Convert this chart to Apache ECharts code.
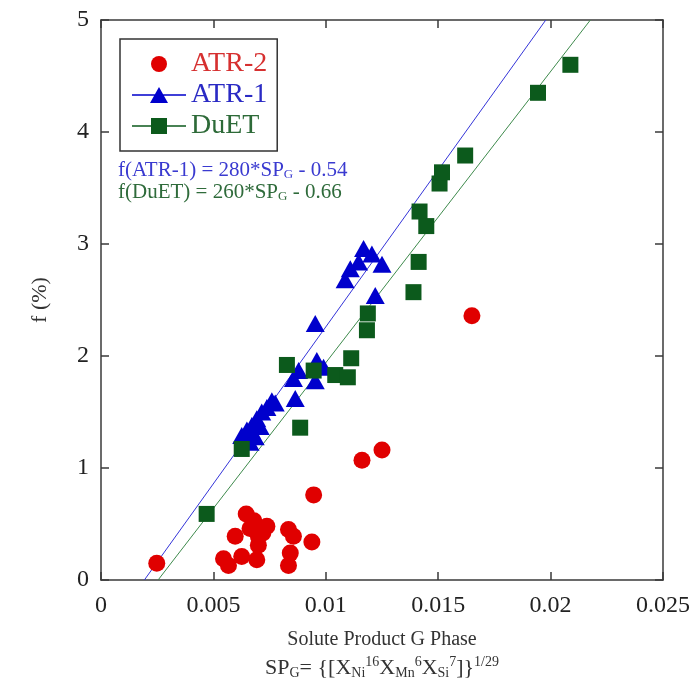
<!DOCTYPE html>
<html>
<head>
<meta charset="utf-8">
<script src="https://cdn.jsdelivr.net/npm/echarts@6/dist/echarts.min.js"></script>
<style>
  html, body { margin: 0; padding: 0; background: #ffffff; }
  #chart { width: 699px; height: 695px; }
</style>
</head>
<body>
<div id="chart"></div>
<script>
// Solute product SP_G (x) against G-phase fraction f in % (y)
const atr2Points = [
  [0.00248, 0.15], [0.00545, 0.19], [0.00567, 0.13], [0.00597, 0.39],
  [0.00626, 0.21], [0.00646, 0.59], [0.00663, 0.46], [0.00680, 0.53],
  [0.00693, 0.18], [0.00700, 0.39], [0.00700, 0.31], [0.00738, 0.48],
  [0.00720, 0.42], [0.00834, 0.45], [0.00856, 0.39], [0.00842, 0.24],
  [0.00834, 0.13], [0.00938, 0.34], [0.00946, 0.76], [0.01161, 1.07],
  [0.01250, 1.16], [0.01650, 2.36]
];
const atr1Points = [
  [0.00626, 1.29], [0.00649, 1.34], [0.00663, 1.23], [0.00671, 1.38],
  [0.00686, 1.28], [0.00693, 1.44], [0.00708, 1.37], [0.00715, 1.50],
  [0.00738, 1.54], [0.00760, 1.60], [0.00775, 1.58], [0.00864, 1.62],
  [0.00856, 1.80], [0.00879, 1.87], [0.00953, 1.78], [0.00960, 1.96],
  [0.00990, 1.90], [0.00953, 2.29], [0.01086, 2.68], [0.01109, 2.78],
  [0.01146, 2.84], [0.01168, 2.96], [0.01205, 2.91], [0.01250, 2.82],
  [0.01220, 2.54]
];
const duetPoints = [
  [0.00470, 0.59], [0.00626, 1.17], [0.00827, 1.92], [0.00886, 1.36],
  [0.00946, 1.87], [0.01042, 1.83], [0.01098, 1.81], [0.01113, 1.98],
  [0.01183, 2.23], [0.01187, 2.38], [0.01390, 2.57], [0.01413, 2.84],
  [0.01417, 3.29], [0.01447, 3.16], [0.01506, 3.54], [0.01517, 3.64],
  [0.01620, 3.79], [0.01944, 4.35], [0.02088, 4.60]
];

// Linear fits f = slope * SP_G + intercept
const atr1Fit = [280, -0.54];
const duetFit = [260, -0.66];

const xTicks = [0, 0.005, 0.01, 0.015, 0.02, 0.025];
const yTicks = [0, 1, 2, 3, 4, 5];

const serif = "'Liberation Serif', 'Times New Roman', serif";
const red = '#e00000';
const blue = '#0000cc';
const green = '#0c5a1c';

// Fit line spans the full f range of the axis
function fitLine(fit) {
  const yLo = yTicks[0], yHi = yTicks[yTicks.length - 1];
  return [[(yLo - fit[1]) / fit[0], yLo], [(yHi - fit[1]) / fit[0], yHi]];
}

const axisLine = { show: true, onZero: false, lineStyle: { color: '#3a3a3a', width: 1.5 } };
const inTick = { show: true, inside: true, length: 8, lineStyle: { color: '#3a3a3a', width: 1.5 } };

const chart = echarts.init(document.getElementById('chart'), null, { renderer: 'canvas' });
chart.setOption({
  backgroundColor: '#ffffff',
  animation: false,
  grid: { left: 101, right: 36, top: 20, bottom: 115 },
  xAxis: [
    {
      type: 'value', position: 'bottom',
      min: xTicks[0], max: xTicks[xTicks.length - 1], interval: xTicks[1] - xTicks[0],
      axisLine: axisLine, axisTick: inTick, splitLine: { show: false },
      axisLabel: {
        fontFamily: serif, fontSize: 24, color: '#222', margin: 14,
        formatter: v => String(+v.toFixed(3))
      }
    },
    {
      type: 'value', position: 'top',
      min: xTicks[0], max: xTicks[xTicks.length - 1], interval: xTicks[1] - xTicks[0],
      axisLine: axisLine, axisTick: inTick, splitLine: { show: false },
      axisLabel: { show: false }
    }
  ],
  yAxis: [
    {
      type: 'value', position: 'left',
      min: yTicks[0], max: yTicks[yTicks.length - 1], interval: 1,
      axisLine: axisLine, axisTick: inTick, splitLine: { show: false },
      axisLabel: { fontFamily: serif, fontSize: 24, color: '#222', margin: 12 }
    },
    {
      type: 'value', position: 'right',
      min: yTicks[0], max: yTicks[yTicks.length - 1], interval: 1,
      axisLine: axisLine, axisTick: inTick, splitLine: { show: false },
      axisLabel: { show: false }
    }
  ],
  legend: {
    orient: 'vertical', left: 120, top: 39,
    padding: [11, 10, 11, 12], itemGap: 3, itemWidth: 54, itemHeight: 16, itemTextGap: 6,
    borderColor: '#333', borderWidth: 1.5, backgroundColor: '#fff',
    selectedMode: false,
    textStyle: { fontFamily: serif, fontSize: 28, lineHeight: 28 },
    data: [
      { name: 'ATR-2', icon: 'circle', textStyle: { color: '#d63030' } },
      { name: 'ATR-1', icon: 'path://M0,7.2H54V8.8H0Z M27,0L36,16H18Z', textStyle: { color: '#2a2ac4' } },
      { name: 'DuET', icon: 'path://M0,7.2H54V8.8H0Z M19,0H35V16H19Z', textStyle: { color: '#2d6a38' } }
    ]
  },
  series: [
    {
      name: 'fit ATR-1', type: 'line', data: fitLine(atr1Fit), showSymbol: false, silent: true, z: 1,
      xAxisIndex: 0, yAxisIndex: 0,
      lineStyle: { color: '#3434d8', width: 1 }
    },
    {
      name: 'fit DuET', type: 'line', data: fitLine(duetFit), showSymbol: false, silent: true, z: 1,
      xAxisIndex: 0, yAxisIndex: 0,
      lineStyle: { color: '#3e8a4c', width: 1 }
    },
    {
      name: 'ATR-2', type: 'scatter', data: atr2Points, symbol: 'circle', symbolSize: 17, z: 3,
      itemStyle: { color: red, opacity: 1 }
    },
    {
      name: 'ATR-1', type: 'scatter', data: atr1Points, symbol: 'triangle', symbolSize: [19, 17], z: 4,
      itemStyle: { color: blue, opacity: 1 }
    },
    {
      name: 'DuET', type: 'scatter', data: duetPoints, symbol: 'rect', symbolSize: 16, z: 5,
      itemStyle: { color: green, opacity: 1 }
    }
  ],
  graphic: [
    {
      type: 'text', x: 118, y: 170, z: 10,
      style: {
        text: 'f(ATR-1) = 280*SP{s|G} - 0.54',
        fontFamily: serif, fontSize: 21, fill: '#3a3ad0', verticalAlign: 'middle',
        rich: { s: { fontFamily: serif, fontSize: 13, fill: '#3a3ad0', padding: [10, 0, 0, 0] } }
      }
    },
    {
      type: 'text', x: 118, y: 192, z: 10,
      style: {
        text: 'f(DuET) = 260*SP{s|G} - 0.66',
        fontFamily: serif, fontSize: 21, fill: '#2f6b3b', verticalAlign: 'middle',
        rich: { s: { fontFamily: serif, fontSize: 13, fill: '#2f6b3b', padding: [10, 0, 0, 0] } }
      }
    },
    {
      type: 'text', x: 382, y: 640, z: 10,
      style: {
        text: 'Solute Product G Phase',
        fontFamily: serif, fontSize: 20, fill: '#333', align: 'center', verticalAlign: 'middle'
      }
    },
    {
      type: 'text', x: 382, y: 668, z: 10,
      style: {
        text: 'SP{sub|G}= {[X{sub|Ni}{sup|16}X{sub|Mn}{sup|6}X{sub|Si}{sup|7}]}{sup|1/29}',
        fontFamily: serif, fontSize: 22, fill: '#333', align: 'center', verticalAlign: 'middle',
        rich: {
          sub: { fontFamily: serif, fontSize: 14, fill: '#333', padding: [11, 0, 0, 0] },
          sup: { fontFamily: serif, fontSize: 14, fill: '#333', padding: [0, 0, 11, 0] }
        }
      }
    },
    {
      type: 'text', x: 40, y: 300, rotation: Math.PI / 2, z: 10,
      style: {
        text: 'f (%)',
        fontFamily: serif, fontSize: 22, fill: '#333', align: 'center', verticalAlign: 'middle'
      }
    }
  ]
});
</script>
</body>
</html>
